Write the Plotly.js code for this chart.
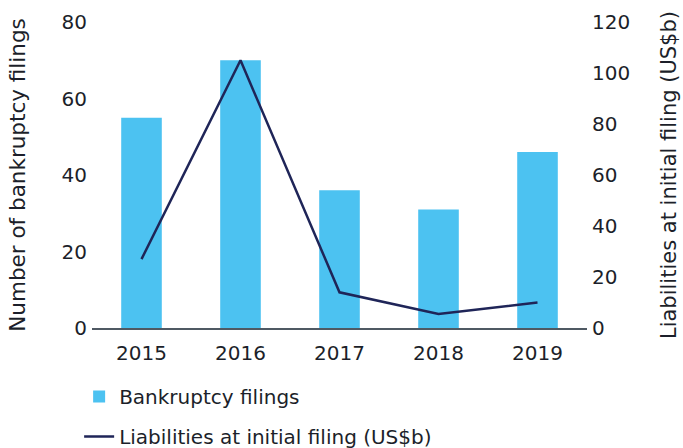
<!DOCTYPE html>
<html>
<head>
<meta charset="utf-8">
<script src="https://cdn.plot.ly/plotly-3.0.1.min.js"></script>
<style>html,body{margin:0;padding:0;background:#fff}#chart{width:683px;height:448px}</style>
</head>
<body>
<div id="chart"></div>
<script>
const years = ["2015", "2016", "2017", "2018", "2019"];
const filings = [55, 70, 36, 31, 46];
const liabilities = [27, 105, 14, 5.5, 10];
const leftTicks = [0, 20, 40, 60, 80];
const rightTicks = [0, 20, 40, 60, 80, 100, 120];

const textColor = "#1c1f2a";
const fontFam = "DejaVu Sans, sans-serif";
const fs = 20;

const traces = [
  {
    type: "bar", x: years, y: filings, name: "Bankruptcy filings",
    marker: {color: "#4cc2f1"}, width: 0.41, yaxis: "y", legendgroup: "a"
  },
  {
    type: "scatter", mode: "lines", x: years, y: liabilities,
    name: "Liabilities at initial filing (US$b)",
    line: {color: "#1f2558", width: 2.5}, yaxis: "y2", legendgroup: "b"
  }
];

const layout = {
  width: 683, height: 448,
  margin: {l: 92, r: 96, t: 22, b: 120, autoexpand: false},
  paper_bgcolor: "#fff", plot_bgcolor: "#fff",
  font: {family: fontFam, color: textColor, size: fs},
  showlegend: true,
  legend: {
    x: -0.026, y: -0.16, xanchor: "left", yanchor: "top",
    orientation: "v", font: {size: fs, color: textColor},
    tracegroupgap: 11, itemwidth: 30, traceorder: "grouped", maxheight: 1
  },
  xaxis: {
    type: "category", range: [-0.5, 4.5], showgrid: false,
    showline: true, linecolor: "#4f5963", linewidth: 2,
    ticks: "", tickfont: {size: fs, color: textColor}, zeroline: false,
    ticklabelstandoff: 6, automargin: false
  },
  yaxis: {
    range: [0, 80], tickvals: leftTicks, showgrid: false, zeroline: false,
    showline: false, ticks: "", automargin: false, ticklabelstandoff: 4,
    tickfont: {size: fs, color: textColor},
    title: {text: "Number of bankruptcy filings", font: {size: 21.5, color: textColor}, standoff: 30}
  },
  yaxis2: {
    range: [0, 120], tickvals: rightTicks, overlaying: "y", side: "right",
    showgrid: false, zeroline: false, showline: false, ticks: "", automargin: false,
    ticklabelstandoff: 4,
    tickfont: {size: fs, color: textColor},
    title: {text: "Liabilities at initial filing (US$b)", font: {size: 21, color: textColor}, standoff: 32}
  }
};

Plotly.newPlot("chart", traces, layout, {displayModeBar: false, staticPlot: true});
</script>
</body>
</html>
